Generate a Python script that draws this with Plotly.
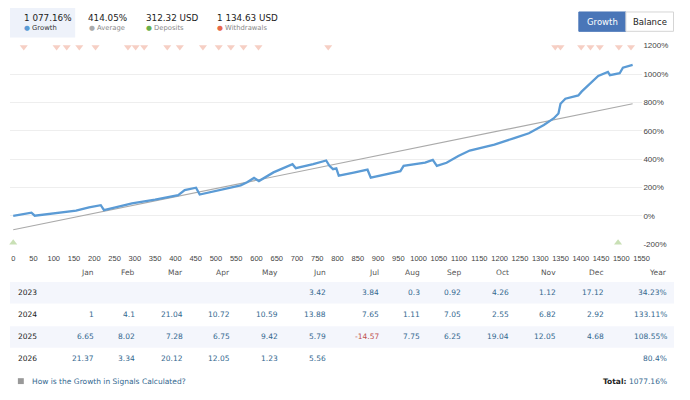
import plotly.graph_objects as go

# the page body has an 8px margin: keep the figure inside the 690x400 window
OFF = 8
W, H = 690 - 2 * OFF, 400 - 2 * OFF

# growth curve, %
growth_x = [0, 20, 45, 53, 100, 155, 187, 216, 224, 260, 293, 350, 407, 423, 451, 460, 512,
            561, 577, 594, 606, 642, 689, 697, 740, 772, 780, 789, 797, 803, 840, 874, 882,
            920, 955, 963, 992, 1016, 1035, 1045, 1069, 1098, 1126, 1187, 1236, 1272, 1309,
            1333, 1345, 1350, 1362, 1394, 1402, 1443, 1467, 1472, 1496, 1504, 1528]
growth_y = [0, 8, 23, 2, 18, 37, 60, 76, 41, 65, 88, 115, 147, 183, 199, 151, 187,
            216, 237, 268, 246, 307, 365, 337, 365, 391, 353, 330, 335, 284, 305, 326, 270,
            295, 316, 353, 365, 376, 395, 353, 375, 422, 461, 503, 549, 583, 641,
            687, 722, 791, 826, 849, 876, 987, 1015, 992, 1006, 1045, 1064]

avg_x = [0, 1528]
avg_y = [-97, 791]

withdraw_x = [26, 107, 132, 163, 203, 283, 302, 323, 380, 411, 468, 507, 537, 568, 605, 777,
              1337, 1350, 1401, 1424, 1447, 1494, 1524]
deposit_x = [0, 1492]

y_ticks = [-200, 0, 200, 400, 600, 800, 1000, 1200]

stat_values = ["1 077.16%", "414.05%", "312.32 USD", "1 134.63 USD"]
stat_names = ["Growth", "Average", "Deposits", "Withdrawals"]
stat_colors = ["#5b9bd5", "#aaaaaa", "#6ab04c", "#e8694a"]

months = ["Jan", "Feb", "Mar", "Apr", "May", "Jun", "Jul", "Aug", "Sep", "Oct", "Nov", "Dec"]
years = ["2023", "2024", "2025", "2026"]
monthly = [
    [None, None, None, None, None, 3.42, 3.84, 0.3, 0.92, 4.26, 1.12, 17.12],
    [1, 4.1, 21.04, 10.72, 10.59, 13.88, 7.65, 1.11, 7.05, 2.55, 6.82, 2.92],
    [6.65, 8.02, 7.28, 6.75, 9.42, 5.79, -14.57, 7.75, 6.25, 19.04, 12.05, 4.68],
    [21.37, 3.34, 20.12, 12.05, 1.23, 5.56, None, None, None, None, None, None],
]
year_totals = [34.23, 133.11, 108.55, 80.4]
total = 1077.16


def px(x):
    return (x - OFF) / W


def py(y):
    return 1 - (y - OFF) / H


UI = "DejaVu Sans"
BLUE_TXT = "#33688f"

fig = go.Figure()

fig.add_trace(go.Scatter(x=avg_x, y=avg_y, mode="lines",
                         line=dict(color="#aaaaaa", width=1.2), hoverinfo="skip"))
fig.add_trace(go.Scatter(x=growth_x, y=growth_y, mode="lines",
                         line=dict(color="#5b9bd5", width=2.3), hoverinfo="skip"))
fig.add_trace(go.Scatter(x=withdraw_x, y=[1190] * len(withdraw_x), mode="markers",
                         marker=dict(symbol="triangle-down", size=7, color="#f6cfc4"),
                         cliponaxis=False, hoverinfo="skip"))
fig.add_trace(go.Scatter(x=deposit_x, y=[-188] * len(deposit_x), mode="markers",
                         marker=dict(symbol="triangle-up", size=7, color="#c9e0b5"),
                         cliponaxis=False, hoverinfo="skip"))

fig.update_layout(
    width=W, height=H, margin=dict(l=0, r=0, t=0, b=0),
    paper_bgcolor="white", plot_bgcolor="white", showlegend=False,
    font=dict(family=UI, size=8, color="#333"),
    xaxis=dict(domain=[px(10), px(650)], range=[-8, 1552], tickmode="linear", tick0=0, dtick=50,
               showgrid=False, zeroline=False, showline=False,
               ticks="outside", ticklen=6, tickcolor="rgba(0,0,0,0)",
               tickfont=dict(family="Liberation Sans", size=7.5, color="#444")),
    yaxis=dict(domain=[py(246.4), py(42.6)], range=[-205, 1205], side="right",
               tickmode="array", tickvals=y_ticks, ticktext=[f"{t}%" for t in y_ticks],
               showgrid=True, gridcolor="#eeeeee", gridwidth=1, zeroline=False,
               tickfont=dict(family="Liberation Sans", size=8, color="#444")),
)

shapes = []
ann = []


def label(x, y, text, size=7.5, color="#222", anchor="left"):
    ann.append(dict(xref="paper", yref="paper", x=px(x), y=py(y), text=text, showarrow=False,
                    xanchor=anchor, yanchor="middle", font=dict(family=UI, size=size, color=color)))


def box(x0, x1, y0, y1, fill, border=None, layer="below"):
    shapes.append(dict(type="rect", xref="paper", yref="paper", x0=px(x0), x1=px(x1),
                       y0=py(y1), y1=py(y0), fillcolor=fill, layer=layer,
                       line=dict(color=border, width=1) if border else dict(width=0)))


# header stats
box(10, 76, 5, 35, "#eef2fa")
stat_left = [21.7, 87.3, 145.7, 217.3]
for xl, val, name, col in zip(stat_left, stat_values, stat_names, stat_colors):
    label(xl, 15.5, val, size=8.8)
    label(xl + 0.3, 25.5, f"<span style='color:{col}'>●</span> {name}", size=6.8,
          color="#333" if name == "Growth" else "#888")

# Growth / Balance buttons
box(585.7, 633.3, 9, 28.7, "#4a76b8", "#4a76b8", layer="above")
box(633.3, 681.5, 9, 28.7, "white", "#d5d5d5", layer="above")
label(609.5, 19, "Growth", size=8.5, color="white", anchor="center")
label(657.5, 19, "Balance", size=8.5, color="#222", anchor="center")

# monthly table
col_right = [96.7, 138.3, 186.7, 235, 283.3, 332.3, 385, 426.7, 468.3, 516.7, 565, 613.3]
year_right = 676.7
row_y = [295, 317.3, 340, 362.3]
header_y = 274

for i in (0, 2):
    box(10, 682, row_y[i] - 11, row_y[i] + 11, "#f4f6fc")

for m, xr in zip(months, col_right):
    label(xr, header_y, m, color="#555", anchor="right")
label(year_right, header_y, "Year", color="#555", anchor="right")

for yr, vals, tot, ry in zip(years, monthly, year_totals, row_y):
    label(16, ry, yr)
    for v, xr in zip(vals, col_right):
        if v is None:
            continue
        label(xr, ry, f"{v:g}", color="#c0504d" if v < 0 else BLUE_TXT, anchor="right")
    label(year_right, ry, f"{tot:g}%", color=BLUE_TXT, anchor="right")

# footer
box(18, 24, 382, 388, "#999999")
label(30, 385, "How is the Growth in Signals Calculated?", color=BLUE_TXT)
label(year_right, 385, f"<b>Total:</b> <span style='color:{BLUE_TXT}'>{total:g}%</span>",
      anchor="right")

fig.update_layout(shapes=shapes, annotations=ann)
fig.write_html("out.html")
